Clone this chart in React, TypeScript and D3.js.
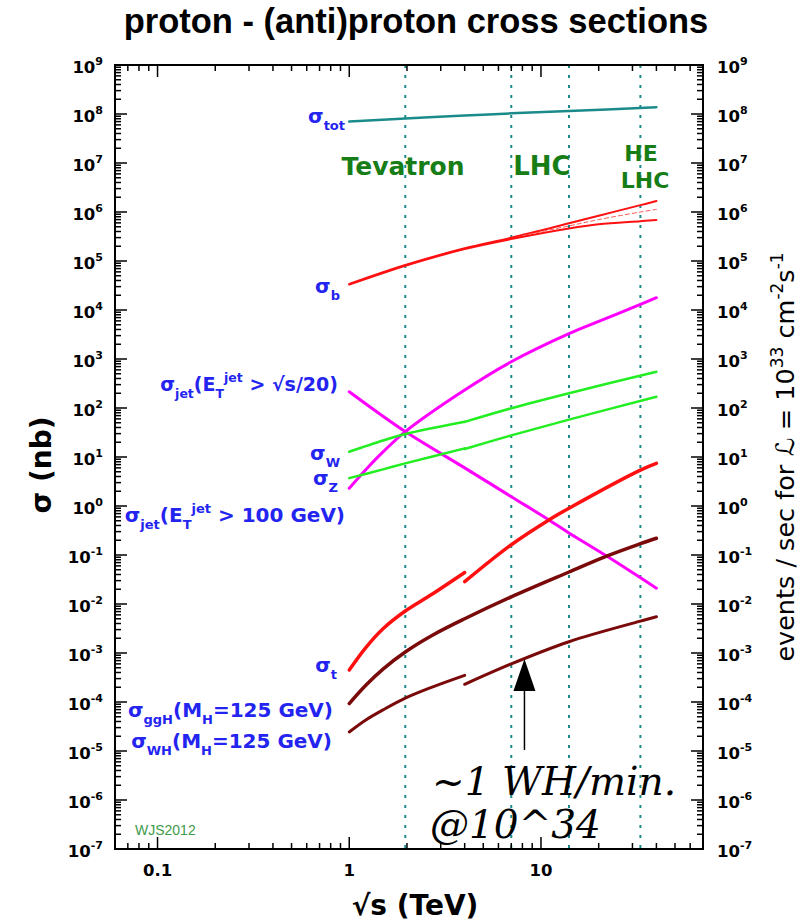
import React from 'react';
import * as d3 from 'd3';

// ---------- data ----------
const xDomain: [number, number] = [0.06, 70];
const yDomain: [number, number] = [1e-7, 1e9];
const xTickLabels = [0.1, 1, 10];
const yTickExps = d3.range(-7, 10);
const colliderEnergies = [1.96, 7, 14, 33];

// [sqrt(s) TeV, sigma nb]
const sigmaTot = [[1, 7.0e7], [1.96, 8.1e7], [4, 9.3e7], [7, 1.03e8], [14, 1.15e8], [40, 1.37e8]];
const sigmaBUpper = [[1, 3.4e4], [1.5, 5.9e4], [1.96, 8.3e4], [4, 1.82e5], [7, 3.0e5], [14, 5.9e5], [20, 8.4e5], [33, 1.38e6], [40, 1.67e6]];
const sigmaBLower = [[1, 3.3e4], [1.5, 5.7e4], [1.96, 8.0e4], [4, 1.75e5], [7, 2.8e5], [14, 4.6e5], [20, 5.6e5], [33, 6.5e5], [40, 6.9e5]];
const sigmaBCentral = [[8, 3.3e5], [14, 5.2e5], [20, 7.0e5], [33, 1.0e6], [40, 1.13e6]];
const sigmaJetScaled = [[1, 215], [1.96, 33], [4, 6.0], [7, 1.55], [11, 0.52], [14, 0.28], [22, 0.095], [40, 0.021]];
const sigmaJet100 = [[1, 2.3], [1.25, 6.1], [1.5, 12.7], [1.96, 33], [4, 233], [7, 880], [14, 3300], [20, 5850], [33, 1.3e4], [40, 1.78e4]];
const sigmaWppbar = [[1, 12.8], [1.5, 21.7], [1.96, 29.5], [4, 52.6]];
const sigmaWpp = [[4, 52], [7, 98.6], [14, 200], [40, 550]];
const sigmaZppbar = [[1, 3.7], [1.5, 5.6], [1.96, 7.4], [4, 15.0]];
const sigmaZpp = [[4, 14.6], [7, 27.6], [14, 58], [40, 170]];
const sigmaTppbar = [[1, 4.5e-4], [1.22, 1.29e-3], [1.5, 3.13e-3], [1.96, 7.2e-3], [2.7, 1.58e-2], [4, 4.4e-2]];
const sigmaTpp = [[4, 2.85e-2], [7, 0.162], [11, 0.52], [14, 0.9], [33, 5.4], [40, 7.4]];
const sigmaGGH = [[1, 9.3e-5], [1.22, 2.2e-4], [1.5, 4.7e-4], [1.96, 1.05e-3], [2.73, 2.33e-3], [4, 5.0e-3], [7, 1.4e-2], [14, 4.5e-2], [22, 9.5e-2], [33, 0.17], [40, 0.22]];
const sigmaWHppbar = [[1, 2.45e-5], [1.22, 4.3e-5], [1.5, 6.9e-5], [1.96, 1.2e-4], [2.73, 2.04e-4], [4, 3.5e-4]];
const sigmaWHpp = [[4, 2.3e-4], [7, 6.0e-4], [14, 1.7e-3], [33, 4.47e-3], [40, 5.5e-3]];
const arrowPoint = { e: 8.2, from: 1.05e-5, to: 7.5e-4 };

// ---------- layout ----------
const W = 802, H = 921;
const L = 115, R = 703, T = 65, B = 849;
const x = d3.scaleLog().domain(xDomain).range([L, R]);
const y = d3.scaleLog().domain(yDomain).range([B, T]);

const line = d3.line<number[]>().x(d => x(d[0])).y(d => y(d[1])).curve(d3.curveCatmullRom.alpha(0.5));

const BLUE = '#2424f0';
const GREEN_TXT = '#177d17';
const TEAL = '#1b8a8a';

const series = [
  { d: sigmaTot, c: TEAL, w: 2.5 },
  { d: sigmaBUpper, c: '#ff1010', w: 2 },
  { d: sigmaBLower, c: '#ff1010', w: 2 },
  { d: sigmaBCentral, c: '#ff5050', w: 1, dash: '4,3' },
  { d: sigmaJetScaled, c: '#ff00ff', w: 3 },
  { d: sigmaJet100, c: '#ff00ff', w: 3 },
  { d: sigmaWppbar, c: '#22ee22', w: 2.5 },
  { d: sigmaWpp, c: '#22ee22', w: 2.5 },
  { d: sigmaZppbar, c: '#22ee22', w: 2.5 },
  { d: sigmaZpp, c: '#22ee22', w: 2.5 },
  { d: sigmaTppbar, c: '#ff1010', w: 3.5 },
  { d: sigmaTpp, c: '#ff1010', w: 3.5 },
  { d: sigmaGGH, c: '#7a0a0a', w: 3.5 },
  { d: sigmaWHppbar, c: '#7a0a0a', w: 3 },
  { d: sigmaWHpp, c: '#7a0a0a', w: 3 },
];

type Part = [string, 'n' | 'sub' | 'sup'];
function Rich({ parts, x: px, y: py, anchor = 'end', size = 20, sub = 13, fill = BLUE, family = 'DejaVu Sans', weight = 'bold' }: any) {
  let cur = 0;
  return (
    <text x={px} y={py} textAnchor={anchor} fill={fill} fontFamily={family} fontWeight={weight} fontSize={size}>
      {(parts as Part[]).map((p, i) => {
        const target = p[1] === 'sub' ? size * 0.35 : p[1] === 'sup' ? -size * 0.45 : 0;
        const dy = target - cur;
        cur = target;
        return <tspan key={i} dy={dy} fontSize={p[1] === 'n' ? size : sub}>{p[0]}</tspan>;
      })}
    </text>
  );
}

const labels: { parts: Part[]; x: number; y: number; size?: number }[] = [
  { parts: [['σ', 'n'], ['tot', 'sub']], x: 345, y: 123 },
  { parts: [['σ', 'n'], ['b', 'sub']], x: 340, y: 293 },
  { parts: [['σ', 'n'], ['jet', 'sub'], ['(E', 'n'], ['T', 'sub'], ['jet', 'sup'], [' > √s/20)', 'n']], x: 338, y: 391, size: 19 },
  { parts: [['σ', 'n'], ['W', 'sub']], x: 340, y: 460 },
  { parts: [['σ', 'n'], ['Z', 'sub']], x: 338, y: 485 },
  { parts: [['σ', 'n'], ['jet', 'sub'], ['(E', 'n'], ['T', 'sub'], ['jet', 'sup'], [' > 100 GeV)', 'n']], x: 345, y: 522 },
  { parts: [['σ', 'n'], ['t', 'sub']], x: 337, y: 672 },
  { parts: [['σ', 'n'], ['ggH', 'sub'], ['(M', 'n'], ['H', 'sub'], ['=125 GeV)', 'n']], x: 333, y: 717 },
  { parts: [['σ', 'n'], ['WH', 'sub'], ['(M', 'n'], ['H', 'sub'], ['=125 GeV)', 'n']], x: 332, y: 748 },
];

function minorTicks(domain: [number, number]) {
  const out: { v: number; major: boolean }[] = [];
  const k0 = Math.floor(Math.log10(domain[0]));
  const k1 = Math.ceil(Math.log10(domain[1]));
  for (let k = k0; k <= k1; k++) {
    for (let m = 1; m <= 9; m++) {
      const v = m * Math.pow(10, k);
      if (v >= domain[0] * 0.9999 && v <= domain[1] * 1.0001) out.push({ v, major: m === 1 });
    }
  }
  return out;
}

export default function App() {
  const xt = minorTicks(xDomain);
  const yt = minorTicks(yDomain);
  const ax = x(arrowPoint.e);
  const ay0 = y(arrowPoint.from);
  const ay1 = y(arrowPoint.to);
  const fnum = 'DejaVu Sans';
  return (
    <svg width={W} height={H} style={{ position: 'absolute', left: 0, top: 0, background: '#fff' }}>
      <rect width={W} height={H} fill="#fff" />
      {/* title */}
      <text x={416} y={33} textAnchor="middle" fontFamily="Liberation Sans" fontWeight="bold" fontSize={34.5}>proton - (anti)proton cross sections</text>

      {/* collider lines */}
      {colliderEnergies.map(e => (
        <line key={e} x1={x(e)} x2={x(e)} y1={T} y2={B} stroke={TEAL} strokeWidth={2} strokeDasharray="3,7" />
      ))}

      {/* curves */}
      {series.map((s, i) => (
        <path key={i} d={line(s.d as number[][]) || ''} fill="none" stroke={s.c} strokeWidth={s.w} strokeDasharray={(s as any).dash} strokeLinecap="round" />
      ))}

      {/* frame & ticks */}
      <rect x={L} y={T} width={R - L} height={B - T} fill="none" stroke="#000" strokeWidth={2} />
      {xt.map((t, i) => {
        const len = t.major ? 12 : 6;
        const px = x(t.v);
        return (
          <g key={'x' + i} stroke="#000" strokeWidth={1.5}>
            <line x1={px} x2={px} y1={B} y2={B - len} />
            <line x1={px} x2={px} y1={T} y2={T + len} />
          </g>
        );
      })}
      {yt.map((t, i) => {
        const len = t.major ? 12 : 6;
        const py = y(t.v);
        return (
          <g key={'y' + i} stroke="#000" strokeWidth={1.5}>
            <line x1={L} x2={L + len} y1={py} y2={py} />
            <line x1={R} x2={R - len} y1={py} y2={py} />
          </g>
        );
      })}

      {/* y tick labels */}
      {yTickExps.map(k => (
        <g key={'yl' + k}>
          <text x={103} y={y(Math.pow(10, k)) + 7.5} textAnchor="end" fontFamily={fnum} fontWeight="bold" fontSize={16.5}>
            10<tspan dy={-8} fontSize={11}>{k}</tspan>
          </text>
          <text x={717} y={y(Math.pow(10, k)) + 7.5} textAnchor="start" fontFamily={fnum} fontWeight="bold" fontSize={16.5}>
            10<tspan dy={-8} fontSize={11}>{k}</tspan>
          </text>
        </g>
      ))}
      {/* x tick labels */}
      {xTickLabels.map(v => (
        <text key={'xl' + v} x={x(v)} y={876} textAnchor="middle" fontFamily={fnum} fontWeight="bold" fontSize={16.5}>{String(v)}</text>
      ))}

      {/* axis titles */}
      <text x={415} y={915} textAnchor="middle" fontFamily={fnum} fontWeight="bold" fontSize={28}>√s  (TeV)</text>
      <text transform="translate(51,465) rotate(-90)" textAnchor="middle" fontFamily={fnum} fontWeight="bold" fontSize={28}>σ  (nb)</text>
      <text transform={`translate(794,${(T + B) / 2}) rotate(-90)`} textAnchor="middle" fontFamily={fnum} fontSize={25.5}>
        events / sec for ℒ = 10<tspan dy={-11} fontSize={17}>33</tspan>
        <tspan dy={11}> cm</tspan><tspan dy={-11} fontSize={17}>-2</tspan>
        <tspan dy={11}>s</tspan><tspan dy={-11} fontSize={17}>-1</tspan>
      </text>

      {/* collider labels */}
      <g fontFamily={fnum} fontWeight="bold" fill={GREEN_TXT} textAnchor="middle">
        <text x={403} y={175} fontSize={25}>Tevatron</text>
        <text x={542} y={175} fontSize={26}>LHC</text>
        <text x={641} y={161} fontSize={22}>HE</text>
        <text x={645} y={188} fontSize={22}>LHC</text>
      </g>

      {/* series labels */}
      {labels.map((l, i) => <Rich key={i} parts={l.parts} x={l.x} y={l.y} size={l.size || 20} sub={l.size ? 12.5 : 13} />)}

      <text x={135} y={835} fontFamily="Liberation Sans" fontSize={14} fill="#3f9a4a">WJS2012</text>

      {/* annotation */}
      <line x1={ax} x2={ax} y1={ay0} y2={ay1 + 30} stroke="#000" strokeWidth={1.5} />
      <path d={`M${ax},${ay1} L${ax - 11},${ay1 + 32} L${ax + 11},${ay1 + 32} Z`} fill="#000" />
      <text x={432} y={795} fontFamily="DejaVu Serif" fontStyle="italic" fontSize={39}>~1 WH/min.</text>
      <text x={430} y={838} fontFamily="DejaVu Serif" fontStyle="italic" fontSize={39}>@10^34</text>
    </svg>
  );
}
